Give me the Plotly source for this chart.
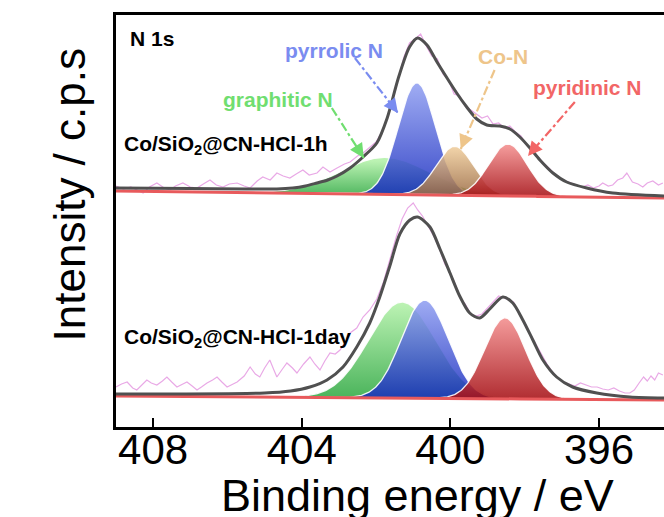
import numpy as np
import plotly.graph_objects as go

# ---------------- N 1s spectra (binding energy, eV) ----------------
x_range = [409.0, 394.25]
x_ticks = [408, 404, 400, 396]

# vertical offsets of the two stacked spectra
offset_1h = 237
offset_1d = 33

# --- Co/SiO2@CN-HCl-1h : fitted envelope ---
env_1h_e = [409.0, 407.0, 405.5, 404.67, 404.24, 403.9, 403.59, 403.3, 403.05, 402.7,
            402.35, 401.98, 401.7, 401.4, 401.1, 400.88, 400.63, 400.36, 400.09, 399.83,
            399.56, 399.29, 399.02, 398.67, 398.4, 398.13, 397.86, 397.59, 397.24, 396.87,
            396.33, 395.63, 394.25]
env_1h_i = [2, 1.5, 1, 1, 2, 4, 7, 10, 14, 22,
            33, 47, 72, 112, 143, 152, 145, 128, 112, 97,
            83, 71, 65, 64, 61, 53, 42, 30, 17, 8,
            2, -3, -6]

# --- Co/SiO2@CN-HCl-1h : measured counts ---
raw_1h_e = [409.0, 408.8, 408.6, 408.4, 408.27, 408.1, 407.9, 407.7, 407.55, 407.4,
            407.2, 407.0, 406.82, 406.65, 406.47, 406.3, 406.12, 405.95, 405.74, 405.55,
            405.39, 405.2, 405.05, 404.85, 404.67, 404.5, 404.32, 404.15, 403.97, 403.8,
            403.59, 403.43, 403.24, 403.05, 402.85, 402.7, 402.5, 402.35, 402.2, 402.0,
            401.85, 401.7, 401.55, 401.4, 401.25, 401.1, 400.95, 400.8, 400.65, 400.5,
            400.35, 400.2, 400.05, 399.9, 399.75, 399.6, 399.45, 399.3, 399.15, 399.0,
            398.85, 398.7, 398.55, 398.4, 398.25, 398.1, 397.95, 397.8, 397.65, 397.5,
            397.35, 397.2, 397.05, 396.9, 396.75, 396.6, 396.45, 396.3, 396.15, 396.0,
            395.9, 395.75, 395.63, 395.5, 395.36, 395.25, 395.1, 394.95, 394.82, 394.7,
            394.55, 394.4, 394.28]
raw_1h_i = [4, 1, 3, -1, -3, 3, 7, 2, 0, 4,
            7, 3, 2, 6, 10, 5, 3, 6, 7, 4,
            2, 9, 13, 10, 17, 14, 12, 16, 20, 15,
            17, 23, 18, 22, 26, 28, 34, 37, 42, 48,
            58, 72, 90, 113, 133, 147, 151, 156, 144, 134,
            131, 116, 110, 96, 94, 84, 80, 76, 72, 74,
            66, 67, 62, 64, 58, 54, 45, 40, 33, 27,
            22, 16, 12, 9, 7, 5, 3, 5, 2, 4,
            7, 4, 5, 10, 12, 17, 8, 6, 3, 7,
            9, 5, 7]

# --- Co/SiO2@CN-HCl-1h : fitted components ---
fit_1h_names = ["graphitic N", "pyrrolic N", "Co-N", "pyridinic N"]
fit_1h_pos = [401.75, 400.90, 399.88, 398.45]
fit_1h_height = [37, 112, 49, 52]
fit_1h_fwhm = [2.83, 1.18, 1.18, 1.22]
bg_1h = [-1, -8]          # linear background at 409.0 / 394.25 eV

# --- Co/SiO2@CN-HCl-1day : fitted envelope ---
env_1d_e = [409.0, 405.0, 404.3, 403.78, 403.32, 402.89, 402.52, 402.17, 401.9, 401.63,
            401.36, 401.09, 400.88, 400.55, 400.28, 400.01, 399.75, 399.48, 399.21, 398.94,
            398.59, 398.32, 398.05, 397.78, 397.51, 397.14, 396.71, 396.06, 395.17, 394.25]
env_1d_i = [0, 1, 3, 7, 14, 27, 47, 71, 97, 128,
            160, 174, 177, 167, 145, 121, 98, 81, 76, 85,
            97, 91, 74, 54, 34, 17, 7, 1, -3, -4]

# --- Co/SiO2@CN-HCl-1day : measured counts ---
raw_1d_e = [409.0, 408.85, 408.7, 408.55, 408.44, 408.3, 408.17, 408.05, 407.9, 407.75,
            407.63, 407.5, 407.36, 407.2, 407.09, 406.95, 406.82, 406.7, 406.55, 406.4,
            406.28, 406.15, 406.01, 405.9, 405.74, 405.55, 405.39, 405.25, 405.13, 405.0,
            404.86, 404.75, 404.67, 404.52, 404.4, 404.25, 404.13, 403.95, 403.78, 403.65,
            403.51, 403.38, 403.24, 403.1, 402.97, 402.83, 402.7, 402.52, 402.35, 402.17,
            401.98, 401.8, 401.63, 401.45, 401.3, 401.15, 401.0, 400.88, 400.75, 400.6,
            400.45, 400.3, 400.15, 400.0, 399.85, 399.75, 399.6, 399.45, 399.3, 399.15,
            399.0, 398.85, 398.7, 398.55, 398.4, 398.3, 398.15, 398.0, 397.85, 397.7,
            397.55, 397.4, 397.25, 397.1, 396.95, 396.8, 396.65, 396.5, 396.35, 396.2,
            396.05, 395.9, 395.75, 395.6, 395.45, 395.3, 395.17, 395.05, 394.92, 394.8,
            394.7, 394.6, 394.5, 394.4, 394.28]
raw_1d_i = [7, 10, 12, 6, 4, 9, 14, 11, 9, 13,
            17, 12, 7, 10, 12, 8, 4, 7, 11, 14,
            17, 12, 7, 9, 12, 18, 27, 20, 17, 26,
            34, 24, 17, 25, 31, 26, 21, 30, 37, 30,
            24, 33, 41, 40, 44, 52, 61, 66, 77, 84,
            95, 112, 135, 158, 175, 186, 191, 184, 178, 168,
            158, 146, 130, 121, 108, 97, 90, 80, 78, 80,
            86, 92, 98, 96, 94, 92, 80, 71, 60, 50,
            40, 30, 22, 16, 12, 10, 8, 11, 9, 7,
            7, 5, 4, 6, 3, 1, 1, 4, 11, 17,
            13, 18, 14, 21, 19]

# --- Co/SiO2@CN-HCl-1day : fitted components ---
fit_1d_names = ["graphitic N", "pyrrolic N", "pyridinic N"]
fit_1d_pos = [401.30, 400.69, 398.53]
fit_1d_height = [96, 98, 81]
fit_1d_fwhm = [2.12, 1.48, 1.30]
bg_1d = [-2, -6]

# fill colours of each component: (bottom, top) of the vertical gradient
comp_fill = {
    "graphitic N": ("rgba(40,165,60,0.85)", "rgba(175,240,165,0.85)"),
    "pyrrolic N": ("rgba(20,40,190,0.85)", "rgba(140,155,240,0.85)"),
    "Co-N": ("rgba(150,100,60,0.85)", "rgba(236,200,150,0.85)"),
    "pyridinic N": ("rgba(165,15,20,0.88)", "rgba(242,140,140,0.88)"),
}
label_color = {
    "graphitic N": "#70de70",
    "pyrrolic N": "#7a8cf0",
    "Co-N": "#eec58a",
    "pyridinic N": "#f26666",
}

grid = np.linspace(x_range[0], x_range[1], 600)


def background(bg):
    frac = (x_range[0] - grid) / (x_range[0] - x_range[1])
    return bg[0] + (bg[1] - bg[0]) * frac


fig = go.Figure()


def add_panel(raw_e, raw_i, env_e, env_i, names, pos, height, fwhm, bg, off):
    fig.add_trace(go.Scatter(x=raw_e, y=[v + off for v in raw_i], mode="lines",
                             line=dict(color="#e9a9e6", width=1.2),
                             showlegend=False, hoverinfo="skip"))
    base = background(bg) + off
    for name, c, h, w in zip(names, pos, height, fwhm):
        sig = w / 2.3548
        curve = base + h * np.exp(-(grid - c) ** 2 / (2 * sig ** 2))
        fig.add_trace(go.Scatter(x=grid, y=base, mode="lines", line=dict(width=0),
                                 showlegend=False, hoverinfo="skip"))
        lo, hi = comp_fill[name]
        fig.add_trace(go.Scatter(
            x=grid, y=curve, mode="lines", fill="tonexty",
            line=dict(color="rgba(255,255,255,0.9)", width=1.3),
            fillgradient=dict(type="vertical", colorscale=[[0, lo], [1, hi]],
                              start=float(base.min()), stop=float(base.min() + h)),
            showlegend=False, hoverinfo="skip"))
    fig.add_trace(go.Scatter(x=grid, y=base, mode="lines",
                             line=dict(color="#e85a5c", width=3),
                             showlegend=False, hoverinfo="skip"))
    fig.add_trace(go.Scatter(x=env_e, y=[v + off for v in env_i], mode="lines",
                             line=dict(color="#505050", width=3, shape="spline", smoothing=0.8),
                             showlegend=False, hoverinfo="skip"))


add_panel(raw_1h_e, raw_1h_i, env_1h_e, env_1h_i, fit_1h_names, fit_1h_pos,
          fit_1h_height, fit_1h_fwhm, bg_1h, offset_1h)
add_panel(raw_1d_e, raw_1d_i, env_1d_e, env_1d_i, fit_1d_names, fit_1d_pos,
          fit_1d_height, fit_1d_fwhm, bg_1d, offset_1d)

FONT = "Liberation Sans, Arial, sans-serif"
LABEL_SIZE = 21
annotations = []

# panel and sample labels
annotations.append(dict(text="<b>N 1s</b>", x=0.022, y=0.943, xref="paper", yref="paper",
                        xanchor="left", yanchor="middle", showarrow=False,
                        font=dict(family=FONT, size=LABEL_SIZE, color="black")))
annotations.append(dict(text="<b>Co/SiO<sub>2</sub>@CN-HCl-1h</b>", x=0.011, y=0.685,
                        xref="paper", yref="paper", xanchor="left", yanchor="middle",
                        showarrow=False, font=dict(family=FONT, size=LABEL_SIZE, color="black")))
annotations.append(dict(text="<b>Co/SiO<sub>2</sub>@CN-HCl-1day</b>", x=0.011, y=0.217,
                        xref="paper", yref="paper", xanchor="left", yanchor="middle",
                        showarrow=False, font=dict(family=FONT, size=LABEL_SIZE, color="black")))

# component labels with dash-dot arrows: (text position, arrow tail, arrow tip, head offset)
comp_labels = [
    ("pyrrolic N", (0.398, 0.915), (402.57, 369), (401.41, 314), (-10, -13)),
    ("graphitic N", (0.296, 0.796), (403.19, 319), (402.33, 269), (-9, -14)),
    ("Co-N", (0.706, 0.900), (398.81, 357), (399.72, 278), (6, -15)),
    ("pyridinic N", (0.861, 0.823), (396.65, 325), (397.91, 271), (10, -12)),
]
shapes = []
for name, (tx, ty), tail, tip, head in comp_labels:
    col = label_color[name]
    annotations.append(dict(text="<b>%s</b>" % name, x=tx, y=ty, xref="paper", yref="paper",
                            xanchor="center", yanchor="middle", showarrow=False,
                            font=dict(family=FONT, size=LABEL_SIZE, color=col)))
    shapes.append(dict(type="line", xref="x", yref="y", x0=tail[0], y0=tail[1],
                       x1=tip[0], y1=tip[1], line=dict(color=col, width=2.2, dash="dashdot")))
    annotations.append(dict(text="", x=tip[0], y=tip[1], xref="x", yref="y",
                            ax=head[0], ay=head[1], showarrow=True, arrowhead=2,
                            arrowsize=1.3, arrowwidth=2.2, arrowcolor=col, standoff=0))

# axis titles
annotations.append(dict(text="Binding energy / eV", x=0.55, y=-0.166, xref="paper", yref="paper",
                        xanchor="center", yanchor="middle", showarrow=False,
                        font=dict(family=FONT, size=45, color="black")))
annotations.append(dict(text="Intensity / c.p.s", x=-0.085, y=0.563, xref="paper", yref="paper",
                        xanchor="center", yanchor="middle", showarrow=False, textangle=-90,
                        font=dict(family=FONT, size=44, color="black")))

fig.update_layout(
    width=664, height=517,
    margin=dict(l=116, r=0, t=15, b=90),
    paper_bgcolor="white", plot_bgcolor="white",
    annotations=annotations, shapes=shapes,
    xaxis=dict(range=x_range, tickvals=x_ticks, ticks="inside", ticklen=9, tickwidth=2,
               tickcolor="black", showline=True, linecolor="black", linewidth=2.5,
               mirror=True, showgrid=False, zeroline=False, ticklabelstandoff=-16,
               tickfont=dict(family=FONT, size=42, color="black")),
    yaxis=dict(range=[0, 412], showticklabels=False, ticks="", showline=True,
               linecolor="black", linewidth=2.5, showgrid=False, zeroline=False),
)

fig.write_html("out.html")
